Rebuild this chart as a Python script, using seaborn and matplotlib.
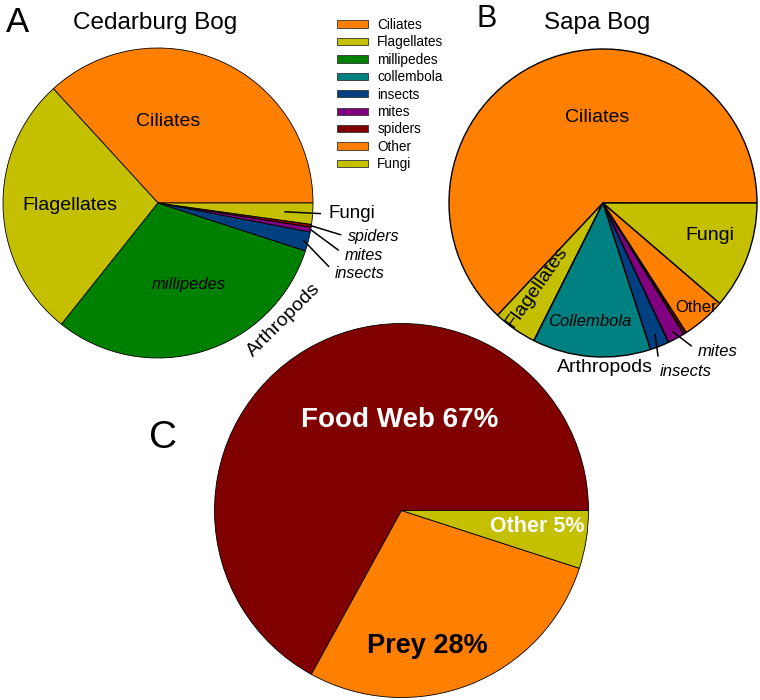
import matplotlib
matplotlib.use('Agg')
import matplotlib.pyplot as plt
import seaborn as sns
from matplotlib.patches import Patch
import numpy as np

sns.set_theme(style='white')
plt.rcParams['font.family'] = ['Liberation Sans', 'DejaVu Sans']
plt.rcParams['text.color'] = 'black'

# ---- data ----
groups = ['Ciliates', 'Flagellates', 'millipedes', 'collembola', 'insects',
          'mites', 'spiders', 'Other', 'Fungi']
group_colors = ['#FF8000', '#C4C000', '#008000', '#008080', '#004080',
                '#800080', '#800000', '#FF8000', '#C4C000']
cedarburg = [36.8, 27.5, 30.7, 0.0, 2.0, 0.5, 0.3, 0.0, 2.2]
sapa = [63.0, 4.6, 0.0, 12.4, 2.0, 1.8, 0.3, 4.6, 11.3]

energy_labels = ['Food Web 67%', 'Prey 28%', 'Other 5%']
energy = [67, 28, 5]
energy_colors = ['#800000', '#FF8000', '#C4C000']

# ---- layout (pixel coordinates, y from top) ----
W, H = 760, 700
def P(x, y):
    return (x, H - y)

fig = plt.figure(figsize=(W / 100, H / 100), dpi=100)
ax = fig.add_axes([0, 0, 1, 1])

cA, rA = P(158, 203), 155
cB, rB = P(603, 203), 154
cC, rC = P(401.5, 510.5), 187

wA, _ = ax.pie(cedarburg, colors=group_colors, center=cA, radius=rA,
               startangle=0, counterclock=True,
               wedgeprops=dict(edgecolor='black', linewidth=0.6))
wB, _ = ax.pie(sapa, colors=group_colors, center=cB, radius=rB,
               startangle=0, counterclock=True,
               wedgeprops=dict(edgecolor='black', linewidth=1.0))
wC, _ = ax.pie(energy, colors=energy_colors, center=cC, radius=rC,
               startangle=0, counterclock=True,
               wedgeprops=dict(edgecolor='black', linewidth=0.6))

ax.set_xlim(0, W)
ax.set_ylim(0, H)
ax.set_aspect('auto')
ax.axis('off')


def anchor(wedges, i, frac, center, R):
    w = wedges[i]
    th = np.deg2rad((w.theta1 + w.theta2) / 2)
    return (center[0] + frac * R * np.cos(th), center[1] + frac * R * np.sin(th))


def txt(s, x, y, size, **kw):
    ax.text(*P(x, y), s, fontsize=size, ha=kw.pop('ha', 'center'),
            va=kw.pop('va', 'center'), color=kw.pop('color', 'black'), **kw)


def pointer(s, wedges, i, frac, center, R, x, y, size, style='italic'):
    ax.annotate(s, xy=anchor(wedges, i, frac, center, R), xytext=P(x, y),
                ha='left', va='center', fontsize=size, style=style, color='black',
                arrowprops=dict(arrowstyle='-', color='black', lw=1.1,
                                shrinkA=3, shrinkB=0, relpos=(0, 0.5)))

# panel letters and titles
txt('A', 17, 22, 25)
txt('B', 487, 19, 22)
txt('C', 163, 438, 28)
txt('Cedarburg Bog', 155, 23, 17.5)
txt('Sapa Bog', 597, 23, 17.5)

# pie A labels
txt('Ciliates', 168, 121, 14)
txt('Flagellates', 70, 206, 14)
txt('millipedes', 189, 284, 12, style='italic')
txt('Arthropods', 284, 320, 14, rotation=45)
pointer('Fungi', wA, 8, 0.82, cA, rA, 328, 214, 13.5, style='normal')
pointer('spiders', wA, 6, 1.0, cA, rA, 348, 237, 11.5)
pointer('mites', wA, 5, 1.0, cA, rA, 345, 255, 11.5)
pointer('insects', wA, 4, 0.97, cA, rA, 335, 273, 11.5)

# pie B labels
txt('Ciliates', 597, 118, 14)
txt('Fungi', 710, 235, 14)
txt('Other', 696, 308, 12)
txt('Flagellates', 537, 287, 14, rotation=55)
txt('Collembola', 590, 321, 12, style='italic')
txt('Arthropods', 605, 368, 14)
pointer('insects', wB, 4, 0.92, cB, rB, 660, 371, 12)
pointer('mites', wB, 5, 0.95, cB, rB, 698, 351, 12)

# pie C labels
txt(energy_labels[0], 400, 420, 20, fontweight='bold', color='white')
txt(energy_labels[1], 427, 646, 19.5, fontweight='bold', color='black')
txt(energy_labels[2], 537, 527, 15.5, fontweight='bold', color='white')

# legend
handles = [Patch(facecolor=c, edgecolor='#333333', linewidth=0.6) for c in group_colors]
fig.legend(handles, groups, loc='upper left', bbox_to_anchor=(337 / W, 1 - 18 / H),
           frameon=False, fontsize=9.8, handlelength=2.3, handleheight=0.45,
           handletextpad=0.66, labelspacing=0.25, borderpad=0, borderaxespad=0,
           labelcolor='black')

fig.savefig('out.png', dpi=100)
